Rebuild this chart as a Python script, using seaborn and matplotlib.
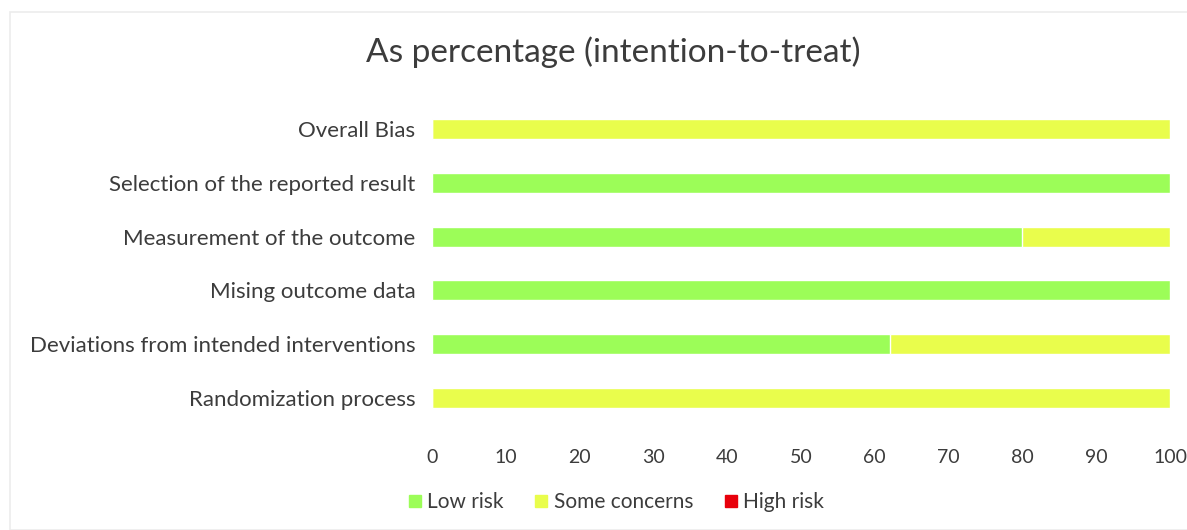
import matplotlib
matplotlib.use("Agg")
import matplotlib.pyplot as plt
from matplotlib.patches import Rectangle
from matplotlib.lines import Line2D
import seaborn as sns
import pandas as pd

# Risk-of-bias domains, listed from top to bottom
domains = [
    "Overall Bias",
    "Selection of the reported result",
    "Measurement of the outcome",
    "Mising outcome data",
    "Deviations from intended interventions",
    "Randomization process",
]
low_risk = [0, 100, 80, 100, 62, 0]
some_concerns = [100, 0, 20, 0, 38, 100]
high_risk = [0, 0, 0, 0, 0, 0]

x_ticks = [0, 10, 20, 30, 40, 50, 60, 70, 80, 90, 100]
legend_labels = ["Low risk", "Some concerns", "High risk"]

GREEN = "#9cfd58"
YELLOW = "#e9fd4c"
RED = "#e8000b"
TEXT = "#3c3c3c"

sns.set_theme(style="white")
plt.rcParams["font.family"] = ["Lato", "DejaVu Sans"]

df = pd.DataFrame({
    "domain": domains,
    "low": low_risk,
    "some": some_concerns,
    "high": high_risk,
})
# cumulative ends for the stacked bars
df["low_some"] = df["low"] + df["some"]
df["total"] = df["low_some"] + df["high"]

fig = plt.figure(figsize=(11.87, 5.30), dpi=100)
ax = fig.add_axes([432 / 1187, 1 - 425 / 530, (1170 - 432) / 1187, (425 - 102) / 530])

bar_w = 0.37
sns.barplot(data=df, x="total", y="domain", orient="h", color=RED,
            width=bar_w, saturation=1, ax=ax)
sns.barplot(data=df, x="low_some", y="domain", orient="h", color=YELLOW,
            width=bar_w, saturation=1, ax=ax)
sns.barplot(data=df, x="low", y="domain", orient="h", color=GREEN,
            width=bar_w, saturation=1, ax=ax)

ax.set_xlim(0, 100)
ax.set_xticks(x_ticks)
ax.set_xticklabels([str(t) for t in x_ticks])
ax.set_xlabel("")
ax.set_ylabel("")
for s in ax.spines.values():
    s.set_visible(False)
ax.tick_params(axis="x", length=0, pad=17, labelsize=14, labelcolor=TEXT)
ax.tick_params(axis="y", length=0, pad=12, labelsize=16, labelcolor=TEXT)

fig.text(613 / 1187, 1 - 52 / 530, "As percentage (intention-to-treat)",
         ha="center", va="center", fontsize=24, color=TEXT)

handles = [Line2D([], [], marker="s", linestyle="none", markersize=9,
                  markerfacecolor=c, markeredgecolor=c)
           for c in (GREEN, YELLOW, RED)]
fig.legend(handles, legend_labels, loc="center",
           bbox_to_anchor=(613 / 1187, 1 - 502 / 530), ncol=3, frameon=False,
           fontsize=15, labelcolor=TEXT, handletextpad=0.0, columnspacing=1.2,
           handlelength=1.2)

# faint chart-area border
fig.patches.append(Rectangle((10 / 1187, 0), 1.0, 1 - 12 / 530,
                             transform=fig.transFigure, fill=False,
                             edgecolor="#ececec", linewidth=1.2))

fig.savefig("out.png", dpi=100, facecolor="white")
